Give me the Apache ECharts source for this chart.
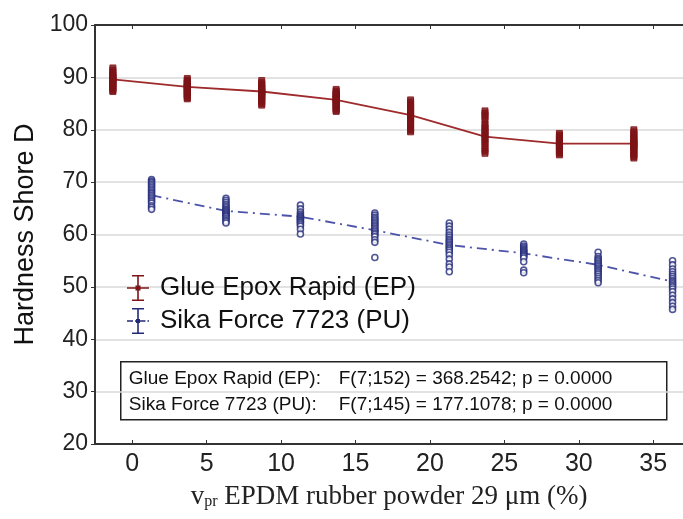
<!DOCTYPE html>
<html><head><meta charset="utf-8">
<script src="https://cdn.jsdelivr.net/npm/echarts@6/dist/echarts.min.js"></script>
<style>html,body{margin:0;padding:0;background:#fff}#c{width:683px;height:519px}</style>
</head><body><div id="c"></div>
<script>
// Concentration of EPDM rubber powder (%)
const conc = [0, 5, 10, 15, 20, 25, 30, 35];
const yTicks = [20, 30, 40, 50, 60, 70, 80, 90, 100];
const xTicks = [0, 5, 10, 15, 20, 25, 30, 35];

// Glue Epox Rapid (EP) - individual hardness readings per group
const ep0  = [91.8,91.4,91.0,90.7,90.4,90.2,90.0,89.8,89.7,89.5,89.3,89.1,88.9,88.7,88.5,88.2,88.0,87.8,87.5,87.3];
const ep5  = [89.8,89.5,89.2,89.0,88.8,88.6,88.4,88.3,88.1,88.0,87.8,87.6,87.4,87.2,87.0,86.8,86.6,86.4,86.1,85.9];
const ep10 = [89.4,89.0,88.7,88.4,88.1,87.9,87.7,87.5,87.3,87.1,87.0,86.8,86.6,86.4,86.2,85.9,85.6,85.3,85.0,84.7];
const ep15 = [87.7,87.4,87.1,86.9,86.7,86.5,86.3,86.1,85.9,85.8,85.6,85.4,85.2,85.0,84.8,84.5,84.2,84.0,83.7,83.5];
const ep20 = [85.7,85.3,84.9,84.6,84.3,84.0,83.7,83.4,83.1,82.9,82.6,82.3,82.0,81.7,81.4,81.0,80.6,80.2,79.9,79.6];
const ep25 = [83.6,83.2,82.8,82.4,81.9,81.1,80.7,80.3,79.9,79.6,79.2,78.9,78.5,78.1,77.7,77.3,76.8,76.3,75.9,75.5];
const ep30 = [79.3,79.0,78.7,78.4,78.2,78.0,77.8,77.6,77.4,77.3,77.1,76.9,76.7,76.5,76.3,76.1,75.9,75.7,75.5,75.2];
const ep35 = [80.0,79.6,79.2,78.9,78.6,78.3,78.0,77.7,77.5,77.3,77.1,76.9,76.7,76.4,76.1,75.8,75.5,75.2,74.9,74.6];
const epMean = [89.6, 88.2, 87.3, 85.7, 82.8, 78.7, 77.35, 77.35];

// Sika Force 7723 (PU) - individual hardness readings per group
const pu0  = [70.5,70.2,69.9,69.6,69.3,69.0,68.7,68.4,68.1,67.8,67.5,67.2,66.9,66.6,66.3,66.0,65.5,65.2,64.8];
const pu5  = [66.9,66.5,66.1,65.7,65.4,65.1,64.8,64.6,64.4,64.2,64.0,63.8,63.6,63.4,63.1,62.8,62.5,62.2];
const pu10 = [65.6,64.9,64.3,63.9,63.6,63.4,63.2,63.0,62.8,62.6,62.4,62.2,61.9,61.6,61.0,60.1];
const pu15 = [64.1,63.7,63.3,63.0,62.7,62.4,62.1,61.8,61.5,61.2,60.9,60.6,60.3,60.0,59.6,59.0,58.5,55.6];
const pu20 = [62.2,61.6,61.0,60.4,59.9,59.5,59.1,58.8,58.5,58.2,57.9,57.6,57.3,57.0,56.6,56.1,55.3,54.4,53.8,52.9];
const pu25 = [58.2,57.8,57.5,57.2,57.0,56.8,56.6,56.4,56.2,56.0,55.8,55.5,54.8,53.2,52.7];
const pu30 = [56.6,55.8,55.4,55.1,54.8,54.5,54.2,53.9,53.6,53.3,53.0,52.7,52.4,52.0,51.6,51.2,50.8];
const pu35 = [55.0,54.2,53.4,52.9,52.4,52.0,51.6,51.2,50.9,50.6,50.3,50.0,49.6,49.1,48.4,47.7,47.0,46.3,45.7];
const puMean = [67.5, 64.5, 63.4, 60.8, 58.0, 56.4, 54.2, 51.0];

const epGroups = [ep0, ep5, ep10, ep15, ep20, ep25, ep30, ep35];
const puGroups = [pu0, pu5, pu10, pu15, pu20, pu25, pu30, pu35];

// presentation: horizontal dodge of the two groups
const EP_SHIFT = -1.3, PU_SHIFT = 1.3;
const EP_COLOR = '#7d1418', EP_LINE = '#9e2a2c';
const PU_COLOR = '#232a7a', PU_LINE = '#4b54a8';
const FONT = '"Liberation Sans", Arial, sans-serif';
const SERIF = '"Liberation Serif", "Times New Roman", serif';

function points(groups, shift) {
  const out = [];
  groups.forEach((g, i) => g.forEach(v => out.push([conc[i] + shift, v])));
  return out;
}
const epPts = points(epGroups, EP_SHIFT);
const puPts = points(puGroups, PU_SHIFT);
const epLine = conc.map((c, i) => [c + EP_SHIFT, epMean[i]]);
const puLine = conc.map((c, i) => [c + PU_SHIFT, puMean[i]]);

const epIcon = 'path://M5,0H17V1.6H5Z M10.2,0H11.8V26H10.2Z M5,24.4H17V26H5Z M0,12.2H22V13.8H0Z M8.5,10.5H13.5V15.5H8.5Z';
const puIcon = 'path://M5,0H17V1.6H5Z M10.2,0H11.8V26H10.2Z M5,24.4H17V26H5Z M0,12.3H6V13.7H0Z M8,12.3H9.5V13.7H8Z M12.5,12.3H18.5V13.7H12.5Z M20.5,12.3H22V13.7H20.5Z M9,11H13V15H9Z';

const chart = echarts.init(document.getElementById('c'), null, {renderer: 'canvas'});
chart.setOption({
  animation: false,
  backgroundColor: '#fff',
  grid: {left: 95, top: 25, right: 0, bottom: 75, containLabel: false},
  xAxis: [{
    type: 'value', position: 'bottom', min: -2.5, max: 37,
    axisLine: {show: true, onZero: false, lineStyle: {color: '#333', width: 2}},
    axisTick: {show: true, inside: true, length: 4, customValues: xTicks, lineStyle: {color: '#333'}},
    axisLabel: {customValues: xTicks, fontSize: 25, fontFamily: FONT, color: '#222', margin: 8},
    splitLine: {show: false},
    name: '{v|v}{s|pr}{n| EPDM rubber powder 29 μm (%)}',
    nameLocation: 'middle', nameGap: 39,
    nameTextStyle: {rich: {
      v: {fontFamily: SERIF, fontSize: 27, color: '#222'},
      s: {fontFamily: SERIF, fontSize: 16, color: '#222', verticalAlign: 'bottom', padding: [11, 0, 0, 0]},
      n: {fontFamily: SERIF, fontSize: 27, color: '#222'}
    }}
  }, {
    type: 'value', position: 'top', min: -2.5, max: 37,
    axisLine: {show: true, onZero: false, lineStyle: {color: '#333', width: 2}},
    axisTick: {show: true, inside: true, length: 4, customValues: xTicks, lineStyle: {color: '#333'}},
    axisLabel: {show: false}, splitLine: {show: false}
  }],
  yAxis: {
    type: 'value', min: 20, max: 100, interval: 10,
    axisLine: {show: true, onZero: false, lineStyle: {color: '#333', width: 2}},
    axisTick: {show: true, length: 4, lineStyle: {color: '#333'}},
    axisLabel: {fontSize: 23, fontFamily: FONT, color: '#222', margin: 7},
    splitLine: {show: true, lineStyle: {color: '#d9d9d9', width: 1.5}},
    name: 'Hardness Shore D', nameLocation: 'middle', nameGap: 56, nameRotate: 90,
    nameTextStyle: {fontSize: 27, fontFamily: FONT, color: '#111'}
  },
  legend: {
    orient: 'vertical', left: 127, top: 275, itemGap: 7, padding: 0,
    itemWidth: 22, itemHeight: 26,
    textStyle: {fontSize: 26, fontFamily: FONT, color: '#111', padding: [0, 0, 0, 6]},
    data: [
      {name: 'Glue Epox Rapid (EP)', icon: epIcon, itemStyle: {color: EP_COLOR}},
      {name: 'Sika Force 7723 (PU)', icon: puIcon, itemStyle: {color: PU_COLOR}}
    ]
  },
  series: [
    {type: 'line', name: 'Glue Epox Rapid (EP)', data: epLine, symbol: 'none',
     lineStyle: {color: EP_LINE, width: 1.8}, itemStyle: {color: EP_COLOR}, z: 2},
    {type: 'scatter', name: 'Glue Epox Rapid (EP)', data: epPts, symbol: 'rect', symbolSize: [6, 6],
     itemStyle: {color: EP_COLOR, borderColor: EP_COLOR, borderWidth: 1}, z: 3},
    {type: 'line', name: 'Sika Force 7723 (PU)', data: puLine, symbol: 'none',
     lineStyle: {color: PU_LINE, width: 1.8, type: [10, 5, 2, 5]}, itemStyle: {color: PU_COLOR}, z: 2},
    {type: 'scatter', name: 'Sika Force 7723 (PU)', data: puPts, symbol: 'circle', symbolSize: 6,
     itemStyle: {color: '#fff', borderColor: PU_COLOR, borderWidth: 1.6}, z: 3}
  ],
  graphic: [{
    type: 'group', left: 120, top: 361,
    children: [
      {type: 'rect', shape: {x: 0, y: 0, width: 546, height: 58}, style: {fill: '#fff', stroke: '#222', lineWidth: 1.5}},
      {type: 'text', x: 8, y: 17, style: {text: 'Glue Epox Rapid (EP):', fontSize: 19, fontFamily: FONT, fill: '#111', textVerticalAlign: 'middle'}},
      {type: 'text', x: 218, y: 17, style: {text: 'F(7;152) = 368.2542; p = 0.0000', fontSize: 19, fontFamily: FONT, fill: '#111', textVerticalAlign: 'middle'}},
      {type: 'text', x: 8, y: 43, style: {text: 'Sika Force 7723 (PU):', fontSize: 19, fontFamily: FONT, fill: '#111', textVerticalAlign: 'middle'}},
      {type: 'text', x: 218, y: 43, style: {text: 'F(7;145) = 177.1078; p = 0.0000', fontSize: 19, fontFamily: FONT, fill: '#111', textVerticalAlign: 'middle'}}
    ]
  }]
});
</script></body></html>
